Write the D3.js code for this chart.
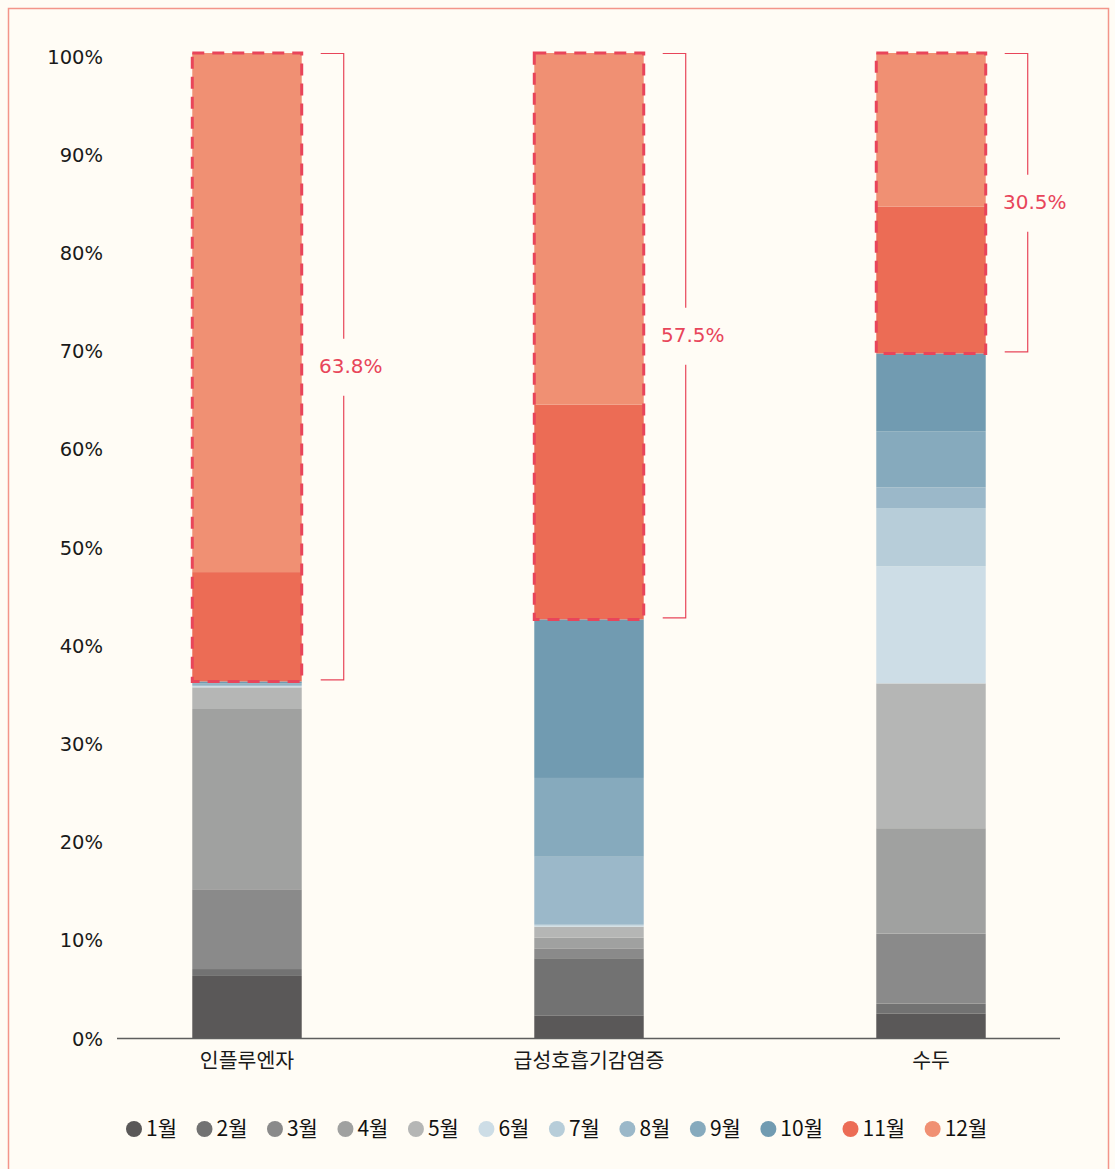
<!DOCTYPE html>
<html>
<head>
<meta charset="utf-8">
<script src="https://cdn.jsdelivr.net/npm/d3@7"></script>
<style>
  body { margin: 0; background: #fff; }
  svg text { font-family: "DejaVu Sans", sans-serif; }
  .kr { font-family: "Noto Sans CJK KR", "Noto Sans", sans-serif; }
</style>
</head>
<body>
<svg id="chart" width="1115" height="1169"></svg>
<script>
// categories and monthly shares (%)
const categories = ['인플루엔자', '급성호흡기감염증', '수두'];
const months = ['1월', '2월', '3월', '4월', '5월', '6월', '7월', '8월', '9월', '10월', '11월', '12월'];
const influenza = [6.3, 0.7, 8.1, 18.3, 2.2, 0.1, 0.05, 0.1, 0.15, 0.2, 11.1, 52.7];
const respiratory = [2.3, 5.8, 1.0, 1.1, 1.1, 0.1, 0.1, 6.9, 8.0, 16.1, 21.8, 35.7];
const chickenpox = [2.5, 1.0, 7.1, 10.7, 14.7, 11.9, 5.9, 2.1, 5.7, 7.9, 14.9, 15.6];
const winterShare = ['63.8%', '57.5%', '30.5%'];
const yTicks = [0, 10, 20, 30, 40, 50, 60, 70, 80, 90, 100];

const colors = ['#5a5858', '#727272', '#8a8a8a', '#a0a1a0', '#b5b6b5', '#cddde6',
                '#b7cdd9', '#9bb8c9', '#86aabd', '#719bb1', '#ec6c55', '#f09073'];
const highlight = '#e8455a';

const svg = d3.select('#chart');

// background + frame
svg.append('rect').attr('x', 0).attr('y', 0).attr('width', 1115).attr('height', 1169).attr('fill', '#fffcf5');
svg.append('rect')
  .attr('x', 8.5).attr('y', 8.5).attr('width', 1100).attr('height', 1200)
  .attr('fill', 'none').attr('stroke', '#f3958a').attr('stroke-width', 1.5);

// scales
const x = d3.scaleBand().domain(categories).range([76, 1102]).paddingInner(0.68).paddingOuter(0.34);
const y = d3.scaleLinear().domain([0, 100]).range([1038, 53]);
// tick labels sit a little lower than the grid values
const yLabel = d3.scaleLinear().domain([0, 100]).range([1040, 58]);
const color = d3.scaleOrdinal().domain(months).range(colors);

// build stacked rows
const rows = categories.map(function(c, i) {
  let vals = [influenza, respiratory, chickenpox][i];
  let row = { category: c };
  months.forEach(function(m, j) { row[m] = vals[j]; });
  return row;
});
const series = d3.stack().keys(months)(rows);

// y tick labels
svg.append('g').selectAll('text').data(yTicks).enter().append('text')
  .attr('x', 103).attr('y', function(d) { return yLabel(d); })
  .attr('text-anchor', 'end').attr('dominant-baseline', 'middle')
  .attr('font-size', 19.5).attr('fill', '#1a1a1a')
  .text(function(d) { return d + '%'; });

// bars
let g = svg.append('g').selectAll('g').data(series).enter().append('g')
  .attr('fill', function(d) { return color(d.key); });

g.selectAll('rect').data(function(d) { return d; }).enter().append('rect')
  .attr('x', function(d) { return x(d.data.category); })
  .attr('width', x.bandwidth())
  .attr('y', function(d) { return y(d[1]); })
  .attr('height', function(d) { return y(d[0]) - y(d[1]); });

// x axis line
svg.append('line')
  .attr('x1', 117).attr('x2', 1060).attr('y1', y(0) + 0.5).attr('y2', y(0) + 0.5)
  .attr('stroke', '#5e5e5e').attr('stroke-width', 1.5);

// category labels
svg.append('g').selectAll('text').data(categories).enter().append('text')
  .attr('class', 'kr')
  .attr('x', function(d) { return x(d) + x.bandwidth() / 2; })
  .attr('y', 1062).attr('text-anchor', 'middle').attr('dominant-baseline', 'middle')
  .attr('font-size', 20.5).attr('fill', '#1a1a1a')
  .text(function(d) { return d; });

// Nov + Dec highlight: dashed box and bracket
const winterBottom = series[10];
categories.forEach(function(c, i) {
  let lo = winterBottom[i][0];
  let x0 = x(c), x1 = x(c) + x.bandwidth();

  svg.append('rect')
    .attr('x', x0).attr('y', y(100)).attr('width', x.bandwidth()).attr('height', y(lo) - y(100))
    .attr('fill', 'none').attr('stroke', highlight).attr('stroke-width', 3)
    .attr('stroke-dasharray', '12,8');

  let bx = x1 + 42;
  let top = y(100) + 0.5, bot = y(lo) - 1.5, mid = (top + bot) / 2;
  let br = svg.append('g').attr('stroke', highlight).attr('stroke-width', 1.2).attr('fill', 'none');
  br.append('path').attr('d', 'M' + (x1 + 19) + ',' + top + 'H' + bx + 'V' + (mid - 28));
  br.append('path').attr('d', 'M' + bx + ',' + (mid + 29) + 'V' + bot + 'H' + (x1 + 19));

  svg.append('text')
    .attr('x', bx + 7).attr('y', mid + 1)
    .attr('text-anchor', 'middle').attr('dominant-baseline', 'middle')
    .attr('font-size', 20).attr('fill', highlight)
    .text(winterShare[i]);
});

// legend
let legend = svg.append('g').attr('transform', 'translate(0,1129)');
let lx = 126;
months.forEach(function(m) {
  let item = legend.append('g');
  item.append('circle').attr('cx', lx + 8).attr('cy', 0).attr('r', 8).attr('fill', color(m));
  let t = item.append('text').attr('class', 'kr')
    .attr('x', lx + 20).attr('y', 1).attr('dominant-baseline', 'middle')
    .attr('font-size', 21).attr('fill', '#111').text(m);
  lx += 20 + t.node().getComputedTextLength() + 19.5;
});
</script>
</body>
</html>
